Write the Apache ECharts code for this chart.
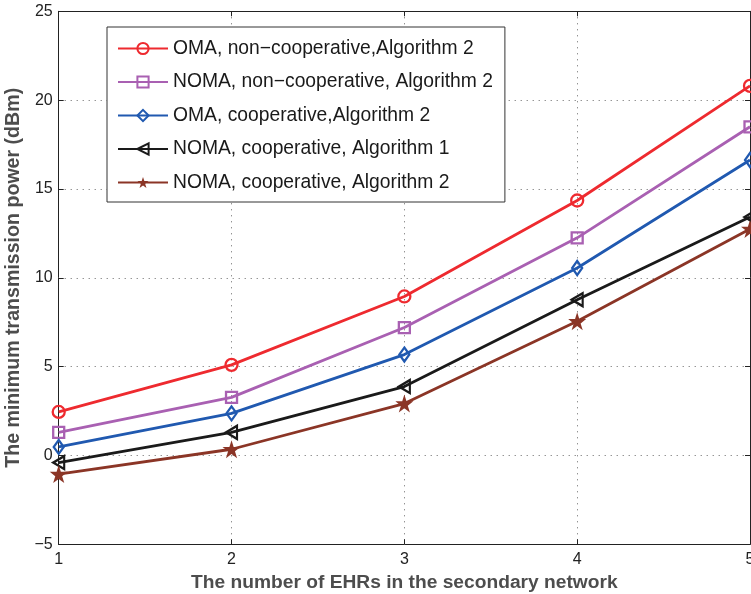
<!DOCTYPE html>
<html>
<head>
<meta charset="utf-8">
<script src="https://cdn.jsdelivr.net/npm/echarts@6/dist/echarts.min.js"></script>
<style>
  html, body { margin: 0; padding: 0; background: #fff; }
  #chart { width: 751px; height: 594px; }
</style>
</head>
<body>
<div id="chart"></div>
<script>
// Number of EHRs in the secondary network
const ehrCounts = [1, 2, 3, 4, 5];

// Minimum transmission power (dBm) for each scheme
const omaNonCoopAlg2 = [2.45, 5.1, 8.95, 14.35, 20.8];
const nomaNonCoopAlg2 = [1.3, 3.27, 7.2, 12.25, 18.5];
const omaCoopAlg2 = [0.48, 2.37, 5.68, 10.55, 16.63];
const nomaCoopAlg1 = [-0.4, 1.3, 3.88, 8.77, 13.42];
const nomaCoopAlg2 = [-1.05, 0.35, 2.92, 7.55, 12.75];

const seriesNames = [
  'OMA, non\u2212cooperative,Algorithm 2',
  'NOMA, non\u2212cooperative, Algorithm 2',
  'OMA, cooperative,Algorithm 2',
  'NOMA, cooperative, Algorithm 1',
  'NOMA, cooperative, Algorithm 2'
];

const yTicks = [-5, 0, 5, 10, 15, 20, 25];

const FONT = '"Liberation Sans", Arial, sans-serif';
const STAR = 'path://M50,0 L61.8,35.1 L100,35.1 L69.1,57.9 L80.9,94.1 L50,72 L19.1,94.1 L30.9,57.9 L0,35.1 L38.2,35.1 Z';
const LEFT_TRI = 'path://M0,50 L100,0 L100,100 Z';

function pairs(vals) {
  return ehrCounts.map((x, i) => [x, vals[i]]);
}

function lineSeries(name, vals, color, symbol, size, hollow) {
  return {
    name: name,
    type: 'line',
    data: pairs(vals),
    symbol: symbol,
    symbolSize: size,
    showSymbol: true,
    lineStyle: { color: color, width: 2.8 },
    itemStyle: hollow
      ? { color: 'rgba(255,255,255,0)', borderColor: color, borderWidth: 2.3 }
      : { color: color, borderColor: color, borderWidth: 0 },
    emphasis: { disabled: true },
    animation: false,
    z: 3
  };
}

const chart = echarts.init(document.getElementById('chart'), null, { renderer: 'canvas' });

const dotted = { show: true, lineStyle: { color: '#666', type: [1, 5], width: 1 } };
const frameLine = { show: true, onZero: false, lineStyle: { color: '#222', width: 1 } };
const inTick = { show: true, inside: true, length: 5, lineStyle: { color: '#222' } };

chart.setOption({
  backgroundColor: '#fff',
  animation: false,
  grid: { left: 58.7, right: 1, top: 11.3, bottom: 49.7, containLabel: false, outerBoundsMode: 'none' },
  legend: {
    orient: 'vertical',
    left: 107,
    top: 27,
    itemWidth: 50,
    itemHeight: 14,
    itemGap: 11.5,
    padding: [10.5, 12, 8.5, 10],
    backgroundColor: '#fff',
    borderColor: '#333',
    borderWidth: 1,
    borderRadius: 0,
    textStyle: { fontFamily: FONT, fontSize: 19.3, color: '#1a1a1a', lineHeight: 22 },
    data: seriesNames,
    z: 10
  },
  xAxis: [
    {
      type: 'value',
      min: 1, max: 5, interval: 1,
      name: 'The number of EHRs in the secondary network',
      nameLocation: 'middle',
      nameGap: 29,
      nameTextStyle: { fontFamily: FONT, fontSize: 19.2, fontWeight: 'bold', color: '#4d4d4d' },
      axisLine: frameLine,
      axisTick: inTick,
      axisLabel: { fontFamily: FONT, fontSize: 16, color: '#222', margin: 7 },
      splitLine: dotted
    },
    {
      type: 'value', position: 'top',
      min: 1, max: 5, interval: 1,
      axisLine: frameLine,
      axisTick: inTick,
      axisLabel: { show: false },
      splitLine: { show: false }
    }
  ],
  yAxis: [
    {
      type: 'value',
      min: -5, max: 25, interval: 5,
      name: 'The minimum transmission power (dBm)',
      nameLocation: 'middle',
      nameGap: 34,
      nameTextStyle: { fontFamily: FONT, fontSize: 19.6, fontWeight: 'bold', color: '#4d4d4d' },
      axisLine: frameLine,
      axisTick: inTick,
      axisLabel: {
        fontFamily: FONT, fontSize: 16, color: '#222', margin: 6,
        formatter: v => (yTicks.includes(v) ? String(v).replace('-', '\u2212') : '')
      },
      splitLine: dotted
    },
    {
      type: 'value', position: 'right',
      min: -5, max: 25, interval: 5,
      axisLine: frameLine,
      axisTick: inTick,
      axisLabel: { show: false },
      splitLine: { show: false }
    }
  ],
  series: [
    lineSeries(seriesNames[0], omaNonCoopAlg2, '#ee2a2f', 'circle', 12, true),
    lineSeries(seriesNames[1], nomaNonCoopAlg2, '#a960b2', 'rect', 11, true),
    lineSeries(seriesNames[2], omaCoopAlg2, '#2059b0', 'diamond', [10, 14], true),
    lineSeries(seriesNames[3], nomaCoopAlg1, '#1a1a1a', LEFT_TRI, [11, 13], true),
    lineSeries(seriesNames[4], nomaCoopAlg2, '#8b3526', STAR, 18, false)
  ]
});
</script>
</body>
</html>
